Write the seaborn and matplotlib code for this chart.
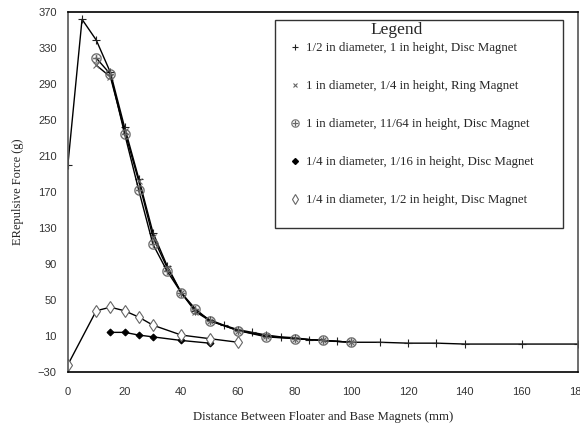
import matplotlib
matplotlib.use("Agg")
import matplotlib.pyplot as plt
import seaborn as sns
from matplotlib.lines import Line2D
from matplotlib.patches import Rectangle
from matplotlib.ticker import MultipleLocator

# Distance (mm) and repulsive force (g) for each magnet
x_half_disc = [0, 5, 10, 15, 20, 25, 30, 35, 40, 45, 50, 55, 60, 65, 70, 75, 80, 85, 90, 95, 100,
               110, 120, 130, 140, 160, 180]
y_half_disc = [200, 362, 339, 303, 242, 185, 125, 88, 58, 38, 28, 22, 17, 14, 11, 9, 8, 6, 5, 4, 3,
               3, 2, 2, 1, 1, 1]

x_ring = [10, 15, 20, 25, 30, 35, 40, 45, 50, 60, 70, 80, 90, 100]
y_ring = [311, 298, 238, 182, 120, 86, 58, 37, 27, 16, 10, 7, 5, 3]

x_disc_11_64 = [10, 15, 20, 25, 30, 35, 40, 45, 50, 60, 70, 80, 90, 100]
y_disc_11_64 = [319, 301, 235, 172, 112, 82, 58, 40, 27, 16, 9, 7, 5, 3]

x_quarter_thin = [15, 20, 25, 30, 40, 50]
y_quarter_thin = [14, 14, 11, 9, 5, 2]

x_quarter_tall = [0, 10, 15, 20, 25, 30, 40, 50, 60]
y_quarter_tall = [-22, 38, 42, 38, 31, 22, 11, 7, 3]

labels = [
    "1/2 in diameter, 1 in height, Disc Magnet",
    "1 in diameter, 1/4 in height, Ring Magnet",
    "1 in diameter, 11/64 in height, Disc Magnet",
    "1/4 in diameter, 1/16 in height, Disc Magnet",
    "1/4 in diameter, 1/2 in height, Disc Magnet",
]

sns.set_style("white")
sans = ["Liberation Sans", "DejaVu Sans"]
serif = ["Liberation Serif", "DejaVu Serif"]
plt.rcParams["font.family"] = sans

fig = plt.figure(figsize=(5.8, 4.33), dpi=100)
ax = fig.add_axes([0.117, 0.141, 0.88, 0.831])

styles = [
    dict(marker="+", markersize=6, markeredgecolor="#222222", markeredgewidth=0.8),
    dict(marker="x", markersize=4, markeredgecolor="#666666", markeredgewidth=0.8),
    dict(marker=r"$\oplus$", markersize=7.5, markeredgecolor="#666666", markerfacecolor="#666666",
         markeredgewidth=0.1),
    dict(marker="D", markersize=3.5, markeredgecolor="black", markerfacecolor="black"),
    dict(marker="d", markersize=6.5, markeredgecolor="#666666", markerfacecolor="white",
         markeredgewidth=0.8),
]
legend_sizes = [5, 3.5, 6, 3, 5.5]
series = [
    (x_half_disc, y_half_disc),
    (x_ring, y_ring),
    (x_disc_11_64, y_disc_11_64),
    (x_quarter_thin, y_quarter_thin),
    (x_quarter_tall, y_quarter_tall),
]

for (xs, ys), st in zip(series, styles):
    sns.lineplot(x=xs, y=ys, color="black", linewidth=1.0, ax=ax, legend=False, **st)

ax.set_xlim(0, 180)
ax.set_ylim(-30, 370)
ax.xaxis.set_major_locator(MultipleLocator(20))
ax.xaxis.set_minor_locator(MultipleLocator(10))
ax.set_yticks(range(-30, 371, 40))
ax.yaxis.set_minor_locator(MultipleLocator(20))
ax.yaxis.set_minor_formatter(plt.NullFormatter())
ax.tick_params(axis="both", which="both", direction="out", length=5, width=1,
               color="#e8c000", labelsize=8, labelcolor="#333333", labelfontfamily=sans)
ax.tick_params(axis="x", which="major", pad=6)
ax.tick_params(axis="y", which="major", pad=3)

ax.spines["top"].set_color("black")
ax.spines["bottom"].set_color("black")
ax.spines["left"].set_color("#555555")
ax.spines["right"].set_color("#555555")
for sp in ax.spines.values():
    sp.set_linewidth(1.2)

ax.set_xlabel("Distance Between Floater and Base Magnets (mm)", family=serif, fontsize=9.2,
              labelpad=10)
ax.set_ylabel("ERepulsive Force (g)", family=serif, fontsize=9, labelpad=10)

# legend: markers only, framed box drawn separately with its own title
handles = []
for st, ms in zip(styles, legend_sizes):
    st = dict(st, markersize=ms)
    handles.append(Line2D([], [], linestyle="none", color="black", **st))
leg = ax.legend(handles, labels, loc="upper left",
                bbox_to_anchor=(288.6 / 580, 1 - 42.5 / 433), bbox_transform=fig.transFigure,
                prop={"family": serif, "size": 9.25}, labelspacing=2.02, borderpad=0,
                handletextpad=0.36, handlelength=1.0, frameon=False, borderaxespad=0)
fig.add_artist(Rectangle((275 / 580, 1 - 228 / 433), 288 / 580, 208 / 433,
                         transform=fig.transFigure, fill=False, edgecolor="#333333", linewidth=1.0))
fig.text(397 / 580, 1 - 30 / 433, "Legend", ha="center", va="center", family=serif, fontsize=12.5)

fig.savefig("out.png", dpi=100)
